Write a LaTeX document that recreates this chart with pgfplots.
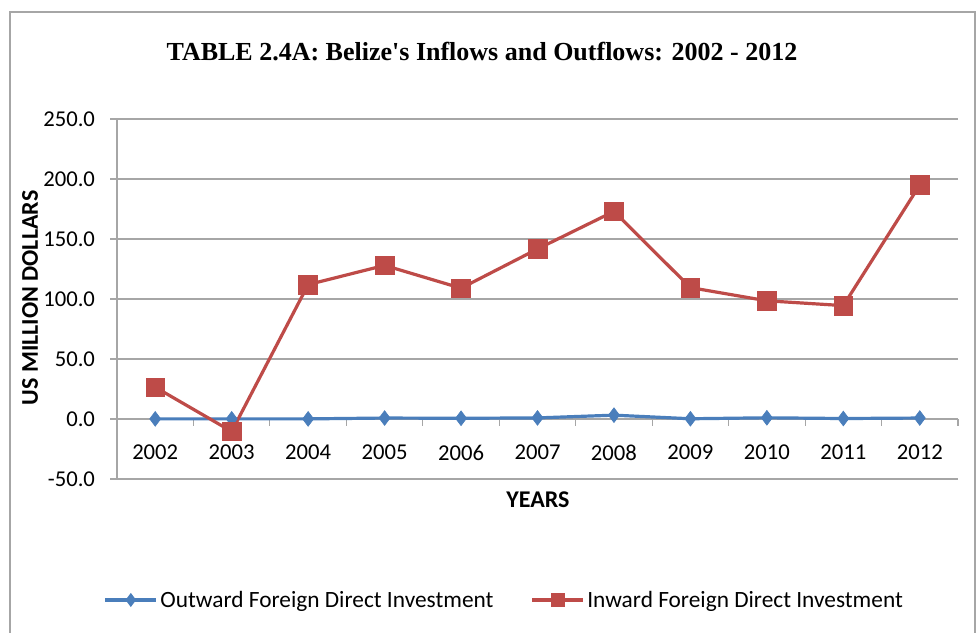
\documentclass[border=0pt]{standalone}
\usepackage{fontspec}
\setmainfont{Carlito}
\newfontfamily\titlefont{Liberation Serif}
\usepackage{pgfplots}
\pgfplotsset{compat=1.18}

\definecolor{outblue}{HTML}{4A7EBB}
\definecolor{inred}{HTML}{BE4B48}
\definecolor{gridgray}{HTML}{A6A6A6}

\begin{document}
\begin{tikzpicture}[x=0.75pt,y=0.75pt]
% page = 980 x 632 px, 1 px = 0.75 pt
\useasboundingbox (0,0) rectangle (980,632);
\draw[gridgray, line width=1.5pt] (10,-20) rectangle (975,620);

\begin{axis}[
    at={(87.75pt,114.75pt)}, anchor=south west,
    scale only axis,
    width=630.75pt, height=270pt,
    xmin=-0.5, xmax=10.5,
    ymin=-50, ymax=250,
    axis x line*=middle,
    axis y line*=left,
    axis line style={gridgray, line width=1pt},
    xtick={0,...,10},
    xticklabels={2002,2003,2004,2005,2006,2007,2008,2009,2010,2011,2012},
    major x tick style={draw=none},
    minor xtick={-0.5,0.5,...,10.5},
    minor x tick style={gridgray, line width=0.8pt},
    minor tick length=5pt,
    tick align=outside,
    xticklabel style={yshift=-11pt},
    ytick={-50,0,...,250},
    y tick style={gridgray, line width=0.8pt},
    major tick length=5pt,
    yticklabel style={xshift=-8pt},
    ymajorgrids,
    grid style={gridgray, line width=1.5pt},
    tick label style={font=\fontsize{17}{17}\selectfont},
    /pgf/number format/.cd, fixed, fixed zerofill, precision=1, assume math mode=true,
    /pgfplots/.cd,
    clip=false,
    legend style={at={(0.461,-0.336)}, anchor=center, draw=none, fill=none,
        legend columns=2, font=\fontsize{17.5}{17.5}\selectfont,
        /tikz/every even column/.append style={column sep=26pt}},
    legend cell align=left,
    legend image code/.code={
        \draw[mark repeat=2, mark phase=2, mark options={scale=0.6}]
            plot coordinates {(0pt,0pt) (19pt,0pt) (38pt,0pt)};
    },
]
\addplot[color=outblue, line width=2.4pt, mark=diamond*, mark size=5.5pt,
    mark options={fill=outblue, draw=outblue, line width=0.5pt}] coordinates {
    (0,0.1) (1,0.1) (2,0.1) (3,0.8) (4,0.6) (5,0.9) (6,3.2) (7,0.2) (8,1.0) (9,0.4) (10,0.8)
};
\addlegendentry{Outward Foreign Direct Investment}
\addplot[color=inred, line width=2.4pt, mark=square*, mark size=7pt,
    mark options={fill=inred, draw=inred, line width=0.5pt}] coordinates {
    (0,26.5) (1,-10.4) (2,112.0) (3,128.0) (4,109.0) (5,141.7) (6,173.0) (7,109.5) (8,98.5) (9,94.5) (10,195.0)
};
\addlegendentry{Inward Foreign Direct Investment}
\end{axis}

\node[font=\titlefont\bfseries\fontsize{19.5}{19.5}\selectfont] at (482,580) {TABLE 2.4A: Belize's Inflows and Outflows: 2002 - 2012};
\node[font=\bfseries\fontsize{18}{18}\selectfont, rotate=90] at (30,334) {US MILLION DOLLARS};
\node[font=\bfseries\fontsize{18}{18}\selectfont] at (538,132) {YEARS};
\end{tikzpicture}
\end{document}
